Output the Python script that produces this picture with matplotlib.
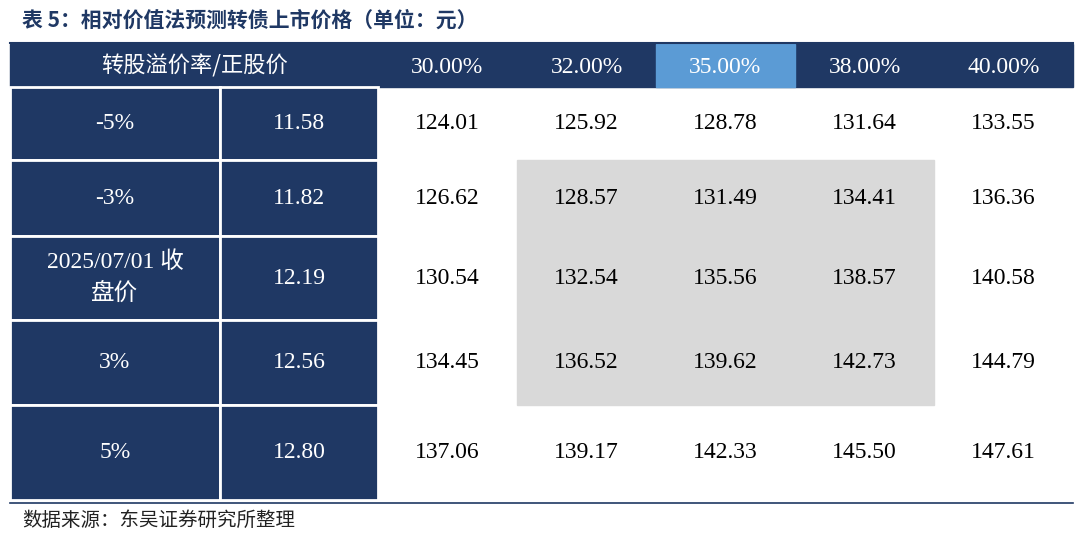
import matplotlib.pyplot as plt
from matplotlib.patches import Rectangle

plt.rcParams['font.family'] = ['Liberation Serif', 'Noto Sans CJK SC']

title = "表 5：相对价值法预测转债上市价格（单位：元）"
source = "数据来源：东吴证券研究所整理"
header_left = "转股溢价率/正股价"
premiums = ["30.00%", "32.00%", "35.00%", "38.00%", "40.00%"]
row_labels = ["-5%", "-3%", "2025/07/01 收\n盘价", "3%", "5%"]
stock_prices = ["11.58", "11.82", "12.19", "12.56", "12.80"]
values = [
    ["124.01", "125.92", "128.78", "131.64", "133.55"],
    ["126.62", "128.57", "131.49", "134.41", "136.36"],
    ["130.54", "132.54", "135.56", "138.57", "140.58"],
    ["134.45", "136.52", "139.62", "142.73", "144.79"],
    ["137.06", "139.17", "142.33", "145.50", "147.61"],
]

navy = "#1F3864"
col_x = [10, 220, 378, 517, 656, 795, 934, 1073]
row_y = [44, 87, 160, 236, 320, 405, 500]

fig = plt.figure(figsize=(10.8, 5.36), dpi=100)
ax = fig.add_axes([0, 0, 1, 1])
ax.set_xlim(0, 1080)
ax.set_ylim(536, 0)
ax.axis('off')

ax.text(22, 20, title, fontsize=15, fontweight='bold', color=navy,
        family=['Noto Sans CJK SC'], va='center')
ax.plot([10, 1073], [43, 43], color=navy, lw=1.5)

# header row
ax.add_patch(Rectangle((col_x[0], row_y[0]), col_x[-1] - col_x[0], row_y[1] - row_y[0], color=navy))
ax.add_patch(Rectangle((col_x[4], row_y[0]), col_x[5] - col_x[4], row_y[1] - row_y[0], color="#5B9BD5"))
ax.text((col_x[0] + col_x[2]) / 2, (row_y[0] + row_y[1]) / 2, header_left, color='white',
        fontsize=16, ha='center', va='center', family=['Noto Sans CJK SC'])
for j, p in enumerate(premiums):
    ax.text((col_x[2 + j] + col_x[3 + j]) / 2, (row_y[0] + row_y[1]) / 2 + 2, p,
            color='white', fontsize=17, ha='center', va='center')

# gray block
ax.add_patch(Rectangle((col_x[3], row_y[2]), col_x[6] - col_x[3], row_y[5] - row_y[2], color="#D9D9D9"))

for i in range(5):
    y0, y1 = row_y[i + 1], row_y[i + 2]
    yc = (y0 + y1) / 2
    for c in range(2):
        ax.add_patch(Rectangle((col_x[c], y0), col_x[c + 1] - col_x[c], y1 - y0,
                               facecolor=navy, edgecolor='white', lw=2))
    ax.text((col_x[0] + col_x[1]) / 2, yc, row_labels[i], color='white', fontsize=17,
            ha='center', va='center', linespacing=1.6,
            family=['Liberation Serif', 'Noto Sans CJK SC'])
    ax.text((col_x[1] + col_x[2]) / 2, yc, stock_prices[i], color='white', fontsize=17,
            ha='center', va='center')
    for j, v in enumerate(values[i]):
        ax.text((col_x[2 + j] + col_x[3 + j]) / 2, yc, v, color='black', fontsize=17,
                ha='center', va='center')

ax.plot([10, 1073], [503, 503], color=navy, lw=1.2)
ax.text(22, 520, source, fontsize=14, color='#222222', va='center',
        family=['Noto Sans CJK SC'])

fig.savefig("out.png", dpi=100)
